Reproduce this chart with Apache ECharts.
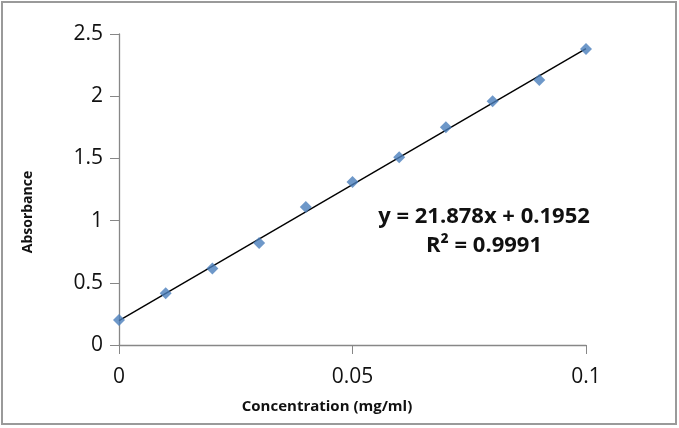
<!DOCTYPE html>
<html lang="en">
<head>
    <meta charset="utf-8">
    <title>Absorbance vs Concentration</title>
    <style>
        html, body { margin: 0; padding: 0; background: #fff; }
        #main { width: 679px; height: 428px; }
    </style>
</head>
<body>
<div id="main"></div>
<script src="https://cdn.jsdelivr.net/npm/echarts@6/dist/echarts.min.js"></script>
<script>
    // measured points
    var conc = [0, 0.01, 0.02, 0.03, 0.04, 0.05, 0.06, 0.07, 0.08, 0.09, 0.1];
    var absorb = [0.20, 0.415, 0.615, 0.82, 1.11, 1.31, 1.51, 1.75, 1.96, 2.13, 2.38];
    // linear trendline shown on the chart
    var slope = 21.878;
    var intercept = 0.1952;
    var r2 = '0.9991';
    var trendX = [0, 0.1];

    var pts = [];
    for (var i = 0; i < conc.length; i++) {
        pts.push([conc[i], absorb[i]]);
    }
    var trend = [];
    for (var j = 0; j < trendX.length; j++) {
        trend.push([trendX[j], slope * trendX[j] + intercept]);
    }

    var font = '"Open Sans", "Liberation Sans", sans-serif';
    var axisGrey = '#878787';

    var myChart = echarts.init(document.getElementById('main'));
    var option = {
        animation: false,
        grid: { left: 119, right: 93, top: 34, bottom: 83 },
        xAxis: {
            type: 'value',
            min: 0, max: 0.1, interval: 0.05,
            axisLine: { show: true, lineStyle: { color: axisGrey, width: 1.3 } },
            axisTick: { show: true, inside: false, length: 9, lineStyle: { color: axisGrey } },
            axisLabel: { fontFamily: font, fontSize: 21, color: '#111', margin: 22 },
            splitLine: { show: false }
        },
        yAxis: {
            type: 'value',
            min: 0, max: 2.5, interval: 0.5,
            axisLine: { show: true, lineStyle: { color: axisGrey, width: 1.3 } },
            axisTick: { show: true, inside: false, length: 9, lineStyle: { color: axisGrey } },
            axisLabel: { fontFamily: font, fontSize: 21, color: '#111', margin: 16 },
            splitLine: { show: false }
        },
        series: [
            {
                type: 'line',
                data: trend,
                symbol: 'none',
                lineStyle: { color: '#000', width: 1.4 },
                z: 2
            },
            {
                type: 'scatter',
                data: pts,
                symbol: 'diamond',
                symbolSize: [12, 12],
                itemStyle: { color: '#4a7ebb' },
                z: 3
            }
        ],
        graphic: [
            {
                type: 'rect',
                shape: { x: 2, y: 2, width: 674, height: 422 },
                style: { fill: 'none', stroke: '#9a9a9a', lineWidth: 2 }
            },
            {
                type: 'text',
                x: 28, y: 212,
                rotation: Math.PI / 2,
                style: {
                    text: 'Absorbance',
                    fontFamily: font, fontWeight: 'bold', fontSize: 14, fill: '#111',
                    align: 'center', verticalAlign: 'middle'
                }
            },
            {
                type: 'text',
                x: 327, y: 407,
                style: {
                    text: 'Concentration (mg/ml)',
                    fontFamily: font, fontWeight: 'bold', fontSize: 15, fill: '#111',
                    align: 'center', verticalAlign: 'middle'
                }
            },
            {
                type: 'text',
                x: 484, y: 217,
                style: {
                    text: 'y = ' + slope + 'x + ' + intercept,
                    fontFamily: font, fontWeight: 'bold', fontSize: 22, fill: '#111',
                    align: 'center', verticalAlign: 'middle'
                }
            },
            {
                type: 'text',
                x: 484, y: 246,
                style: {
                    text: 'R\u00b2 = ' + r2,
                    fontFamily: font, fontWeight: 'bold', fontSize: 22, fill: '#111',
                    align: 'center', verticalAlign: 'middle'
                }
            }
        ]
    };
    myChart.setOption(option);
</script>
</body>
</html>
